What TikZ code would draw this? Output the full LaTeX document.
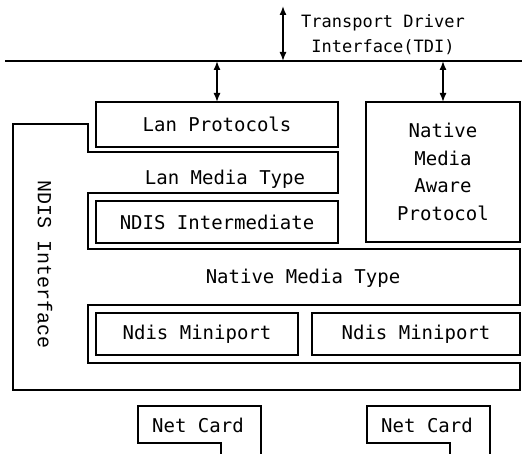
\documentclass[tikz,border=0pt]{standalone}
\usepackage{fontspec}
\setmonofont{DejaVu Sans Mono}
\newfontfamily\courfont{Liberation Mono}
\usetikzlibrary{arrows.meta}
\tikzset{
  frame/.style={draw=black, line width=1.3pt, line join=miter},
  box/.style={frame, rectangle, anchor=north west, inner sep=0pt, outer sep=0pt,
              font=\fontsize{19}{27.7}\selectfont\ttfamily, align=center},
  lbl/.style={inner sep=0pt, font=\fontsize{19}{27.7}\selectfont\ttfamily, align=center},
  bus/.style={draw=black, line width=2pt},
  link/.style={draw=black, line width=1.4pt, {Latex[length=9pt,width=7pt]}-{Latex[length=9pt,width=7pt]}}
}
\begin{document}
\begin{tikzpicture}[x=1pt, y=-1pt]
  \useasboundingbox (0,0) rectangle (522,454);

  % transport driver interface bus
  \coordinate (busL) at (5,61);
  \coordinate (busR) at (522,61);
  \draw[bus] (busL) -- (busR);
  \coordinate (tdiTop) at (283,6);
  \coordinate (tdiBot) at (283,61);
  \draw[link] (tdiTop) -- (tdiBot);
  \node[lbl, font=\fontsize{17}{25}\selectfont\ttfamily] (tdi) at (383,35)
    {Transport Driver\\Interface(TDI)};

  % NDIS interface outline wrapping the media layers
  \draw[frame] (13,124) -- (88,124) -- (88,152) -- (338,152) -- (338,193)
    -- (88,193) -- (88,249) -- (520,249) -- (520,305) -- (88,305)
    -- (88,363) -- (520,363) -- (520,390) -- (13,390) -- cycle;
  \node[lbl, font=\fontsize{20}{24}\selectfont\courfont, rotate=-90] (ndis) at (45,265)
    {NDIS Interface};

  % protocol drivers
  \node[box, minimum width=242pt, minimum height=45pt] (lanp) at (96,102) {Lan Protocols};
  \node[box, minimum width=154pt, minimum height=140pt] (aware) at (366,102)
    {Native\\Media\\Aware\\Protocol};
  \draw[link] (lanp.north) -- (lanp.north |- busL);
  \draw[link] (aware.north) -- (aware.north |- busL);

  % media layers
  \node[lbl] (lanmedia) at (225,179) {Lan Media Type};
  \node[box, minimum width=242pt, minimum height=42pt] (inter) at (96,201) {NDIS Intermediate};
  \node[lbl] (native) at (303,278) {Native Media Type};
  \node[box, minimum width=202pt, minimum height=42pt] (mini1) at (96,313) {Ndis Miniport};
  \node[box, minimum width=208pt, minimum height=42pt] (mini2) at (312,313) {Ndis Miniport};

  % network cards
  \draw[frame] (221,454) -- (221,443) -- (138,443) -- (138,406) -- (261,406) -- (261,454);
  \node[lbl] (card1) at (198,425) {Net Card};
  \draw[frame] (450,454) -- (450,443) -- (367,443) -- (367,406) -- (490,406) -- (490,454);
  \node[lbl] (card2) at (427,425) {Net Card};
\end{tikzpicture}
\end{document}
